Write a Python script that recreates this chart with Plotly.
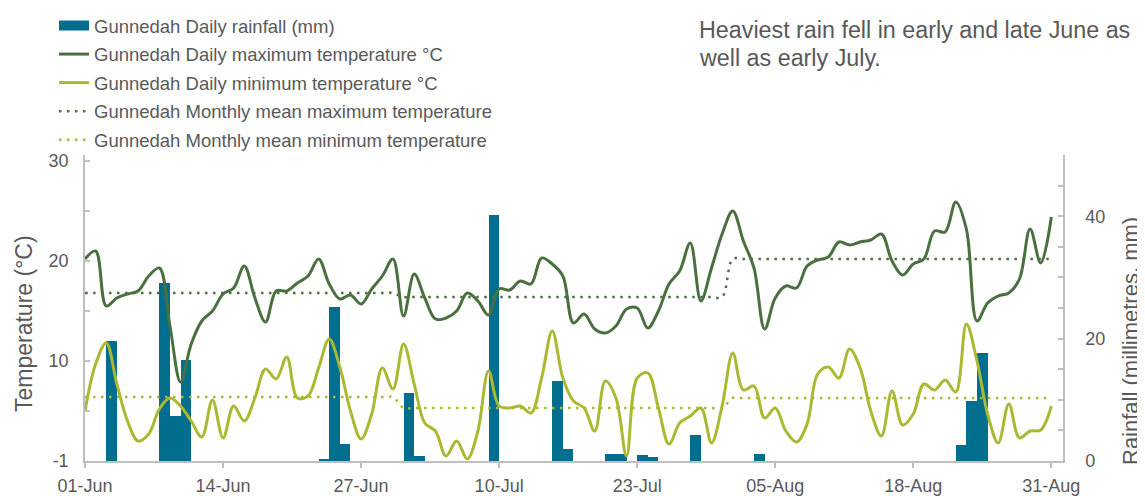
import pandas as pd
import plotly.graph_objects as go

# ---------------- data ----------------
dates = pd.date_range("2021-06-01", "2021-08-31", freq="D")

max_temp = [20.2, 21.0, 15.5, 16.3, 16.7, 17.0, 18.5, 19.3, 13.5, 7.9,
            11.7, 14.0, 15.0, 16.7, 17.3, 19.5, 16.3, 13.9, 17.0, 17.0,
            17.8, 18.5, 20.2, 17.7, 16.2, 16.6, 15.7, 17.2, 18.5, 20.2,
            14.5, 18.7, 16.3, 14.2, 14.3, 15.0, 16.8, 16.0, 14.6, 17.2,
            17.1, 18.0, 17.7, 20.3, 19.7, 18.5, 13.8, 14.7, 13.2, 12.8,
            13.5, 15.2, 15.3, 13.3, 15.0, 17.7, 19.0, 21.8, 16.0, 19.3,
            22.7, 25.0, 22.0, 19.3, 13.2, 16.3, 17.5, 17.3, 19.5, 20.1,
            20.4, 21.9, 21.6, 21.9, 22.1, 22.7, 20.0, 18.6, 19.7, 20.2,
            23.0, 22.9, 25.9, 23.2, 14.0, 15.8, 16.5, 16.8, 18.2, 23.2,
            19.8, 24.4]

min_temp = [5.0, 9.7, 11.8, 7.7, 4.0, 2.0, 2.7, 5.2, 6.3, 5.5,
            4.0, 2.4, 6.1, 2.3, 5.5, 4.0, 6.3, 9.2, 8.2, 10.4,
            6.3, 6.5, 9.3, 12.2, 9.4, 5.0, 2.2, 4.7, 9.3, 7.2,
            11.7, 7.7, 3.8, 3.0, 0.5, 2.0, 0.2, 3.0, 9.0, 5.5,
            5.3, 5.5, 4.8, 8.3, 13.0, 8.3, 6.0, 5.3, 3.0, 8.0,
            6.3, 0.5, 8.3, 8.8, 5.3, 1.7, 3.8, 4.5, 5.3, 1.8,
            5.5, 10.8, 7.1, 7.5, 4.3, 5.3, 3.0, 1.9, 3.7, 8.7,
            9.4, 8.3, 11.2, 9.3, 5.0, 2.5, 7.0, 3.6, 4.7, 7.7,
            7.1, 8.1, 6.9, 13.7, 10.0, 4.7, 1.8, 5.7, 2.3, 3.0,
            3.1, 5.5]

rain_dates = ["2021-06-03", "2021-06-08", "2021-06-09", "2021-06-10",
              "2021-06-23", "2021-06-24", "2021-06-25", "2021-07-01",
              "2021-07-02", "2021-07-09", "2021-07-15", "2021-07-16",
              "2021-07-20", "2021-07-21", "2021-07-23", "2021-07-24",
              "2021-07-28", "2021-08-03", "2021-08-22", "2021-08-23",
              "2021-08-24"]
rain_mm = [19.6, 29.1, 7.4, 16.5,
           0.4, 25.1, 2.8, 11.1,
           0.8, 40.2, 13.0, 2.0,
           1.2, 1.2, 1.0, 0.6,
           4.3, 1.2, 2.6, 9.8,
           17.6]

months = [6, 7, 8]
mean_max = [16.8, 16.4, 20.2]
mean_min = [6.4, 5.3, 6.3]

temp_ticks = [0, 5, 10, 15, 20, 25, 30]
temp_labels = ["-1", "", "10", "", "20", "", "30"]
rain_ticks = [0, 5, 10, 15, 20, 25, 30, 35, 40, 45, 50]
rain_labels = ["0", "", "", "", "20", "", "", "", "40", "", ""]

note_lines = ["Heaviest rain fell in early and late June as", "well as early July."]

# ---------------- styling ----------------
FONT = "Liberation Sans, Arial, sans-serif"
TXT = "#595959"
AX = "#bfbfbf"
C_RAIN = "#006E8C"
C_MAX = "#4B7040"
C_MIN = "#AAB832"

mmax = dict(zip(months, mean_max))
mmin = dict(zip(months, mean_min))
mean_max_daily = [mmax[d.month] for d in dates]
mean_min_daily = [mmin[d.month] for d in dates]

DAY = 86400000

fig = go.Figure()
# legend-only entry giving the rainfall key its wide rectangular swatch
fig.add_trace(go.Scatter(x=[None], y=[None], mode="lines", name="Gunnedah Daily rainfall (mm)",
                         line=dict(color=C_RAIN, width=14), yaxis="y", legendgroup="a"))
fig.add_trace(go.Bar(x=pd.to_datetime(rain_dates), y=rain_mm, name="Gunnedah Daily rainfall (mm)",
                     marker=dict(color=C_RAIN, line=dict(width=0)), width=DAY, offset=0,
                     yaxis="y", legendgroup="a", showlegend=False))
fig.add_trace(go.Scatter(x=dates, y=max_temp, name="Gunnedah Daily maximum temperature °C",
                         mode="lines", line=dict(color=C_MAX, width=3, shape="spline"),
                         yaxis="y2", legendgroup="b"))
fig.add_trace(go.Scatter(x=dates, y=min_temp, name="Gunnedah Daily minimum temperature °C",
                         mode="lines", line=dict(color=C_MIN, width=3, shape="spline"),
                         yaxis="y2", legendgroup="c"))
fig.add_trace(go.Scatter(x=dates, y=mean_max_daily, name="Gunnedah Monthly mean maximum temperature",
                         mode="lines", line=dict(color=C_MAX, width=2.5, dash="2.5px,5.5px", shape="spline"),
                         yaxis="y2", legendgroup="d"))
fig.add_trace(go.Scatter(x=dates, y=mean_min_daily, name="Gunnedah Monthly mean minimum temperature",
                         mode="lines", line=dict(color=C_MIN, width=2.5, dash="2.5px,5.5px", shape="spline"),
                         yaxis="y2", legendgroup="e"))

# the page body has an 8px margin, so the figure sits 8px in from the window corner
OFF = 8
W, H = 1145 - OFF, 496 - OFF
L, R, T, B = 85 - OFF, 82, 155 - OFF, 35
pw, ph = W - L - R, H - T - B


def px(xp):  # window pixel -> paper x
    return (xp - OFF - L) / pw


def py(yp):  # window pixel -> paper y
    return (H - B - (yp - OFF)) / ph


tickfont = dict(family=FONT, size=18, color=TXT)

fig.update_layout(
    width=W, height=H,
    margin=dict(l=L, r=R, t=T, b=B, pad=0, autoexpand=False),
    paper_bgcolor="white", plot_bgcolor="white",
    font=dict(family=FONT, size=18, color=TXT),
    bargap=0,
    showlegend=True,
    legend=dict(x=px(54), y=py(7), xanchor="left", yanchor="top",
                bgcolor="rgba(0,0,0,0)", font=dict(family=FONT, size=18.5, color=TXT),
                tracegroupgap=1.5, itemwidth=30),
    xaxis=dict(type="date", range=["2021-06-01", "2021-09-01 02:24"],
               tick0="2021-06-01", dtick=13 * DAY, tickformat="%d-%b",
               ticks="outside", ticklen=5, tickcolor=AX, tickwidth=1.5,
               showline=True, linecolor=AX, linewidth=2, ticklabelstandoff=2,
               showgrid=False, zeroline=False, tickfont=tickfont),
    yaxis=dict(side="right", range=[0, 50], tickmode="array", tickvals=rain_ticks,
               ticktext=rain_labels, ticks="inside", ticklen=5, tickcolor=AX, tickwidth=1.5,
               showline=True, linecolor=AX, linewidth=1.5, showgrid=False, zeroline=False,
               ticklabelstandoff=17, tickfont=tickfont),
    yaxis2=dict(side="left", overlaying="y", range=[0, 30.6], tickmode="array",
                tickvals=temp_ticks, ticktext=temp_labels, ticks="inside", ticklen=5,
                tickcolor=AX, tickwidth=1.5, showline=True, linecolor=AX, linewidth=1.5,
                ticklabelstandoff=11, showgrid=False, zeroline=False, tickfont=tickfont),
    annotations=[
        dict(text=note_lines[0], xref="paper", yref="paper", x=px(697), y=py(30),
             xanchor="left", yanchor="middle", align="left", showarrow=False,
             font=dict(family=FONT, size=23.3, color=TXT)),
        dict(text=note_lines[1], xref="paper", yref="paper", x=px(697), y=py(58),
             xanchor="left", yanchor="middle", align="left", showarrow=False,
             font=dict(family=FONT, size=23.3, color=TXT)),
        dict(text="Temperature (°C)", xref="paper", yref="paper", x=px(24), y=py(324),
             textangle=-90, showarrow=False, xanchor="center", yanchor="middle",
             font=dict(family=FONT, size=23, color=TXT)),
        dict(text="Rainfall (millimetres, mm)", xref="paper", yref="paper", x=px(1130), y=py(341),
             textangle=-90, showarrow=False, xanchor="center", yanchor="middle",
             font=dict(family=FONT, size=22, color=TXT)),
    ],
)

fig.write_html("out.html")
